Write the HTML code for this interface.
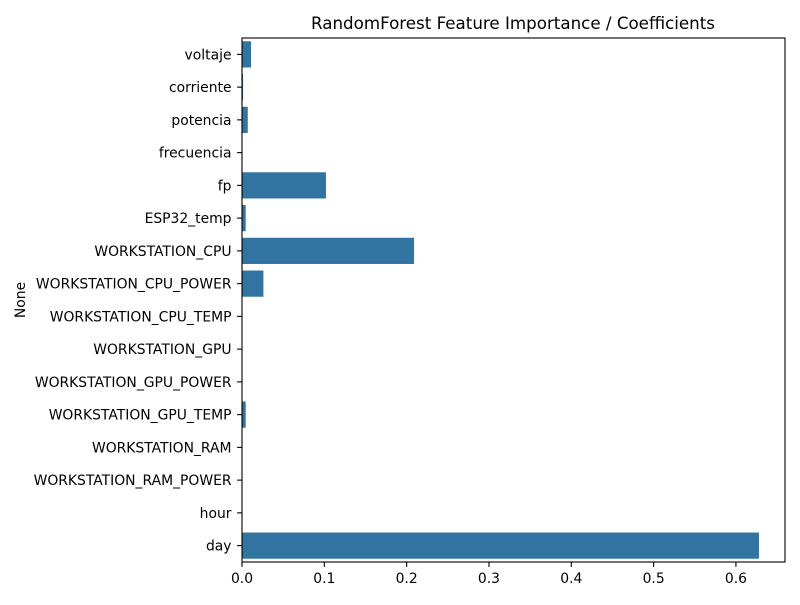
<!DOCTYPE html>
<html><head><meta charset="utf-8"><style>
body{margin:0;background:#fff;font-family:"Liberation Sans","DejaVu Sans",sans-serif}
</style></head><body>
<svg id="chart" width="800" height="600" xmlns="http://www.w3.org/2000/svg" font-family="DejaVu Sans, Liberation Sans, sans-serif">
<rect width="800" height="600" fill="#fff"/>
<text x="513" y="29" text-anchor="middle" font-size="16.7">RandomForest Feature Importance / Coefficients</text>
<text transform="translate(25,300) rotate(-90)" text-anchor="middle" font-size="13.9">None</text>
<g id="bars"></g><g id="yt"></g><g id="xt"></g>
<rect x="242" y="38" width="543" height="524" fill="none" stroke="#000" stroke-width="1.1"/>
</svg>
<script>
const categories=["voltaje","corriente","potencia","frecuencia","fp","ESP32_temp","WORKSTATION_CPU","WORKSTATION_CPU_POWER","WORKSTATION_CPU_TEMP","WORKSTATION_GPU","WORKSTATION_GPU_POWER","WORKSTATION_GPU_TEMP","WORKSTATION_RAM","WORKSTATION_RAM_POWER","hour","day"];
const values=[0.011,0.0013,0.007,0,0.102,0.0045,0.209,0.026,0,0,0,0.0045,0,0,0,0.628];
const xTicks=[0,0.1,0.2,0.3,0.4,0.5,0.6];
const tickLabels=["0.0","0.1","0.2","0.3","0.4","0.5","0.6"];
const NS="http://www.w3.org/2000/svg";
const L=242,R=785,T=38,B=562,xmax=0.6596;
const x=v=>L+v/xmax*(R-L);
const band=(B-T)/categories.length;
const y=i=>T+band*(i+0.5);
const mk=(t,a,p)=>{const e=document.createElementNS(NS,t);for(const k in a)e.setAttribute(k,a[k]);p.appendChild(e);return e;};
const bars=document.getElementById('bars'),yt=document.getElementById('yt'),xt=document.getElementById('xt');
categories.forEach((c,i)=>{
 const r=mk('rect',{x:L,y:y(i)-band*0.4,width:Math.max(0,x(values[i])-L),height:band*0.8,fill:'#3274a1'},bars);
 
 
 mk('line',{x1:L-4.9,x2:L,y1:y(i),y2:y(i),stroke:'#000','stroke-width':1.1},yt);
 const t=mk('text',{x:L-10.5,y:y(i)+5,'text-anchor':'end','font-size':13.9},yt);
 t.textContent=c;
 
 
});
xTicks.forEach((v,i)=>{
 mk('line',{x1:x(v),x2:x(v),y1:B,y2:B+4.9,stroke:'#000','stroke-width':1.1},xt);
 const t=mk('text',{x:x(v),y:B+21,'text-anchor':'middle','font-size':13.9},xt);
 t.textContent=tickLabels[i];
 
 
});
</script>
</body></html>
